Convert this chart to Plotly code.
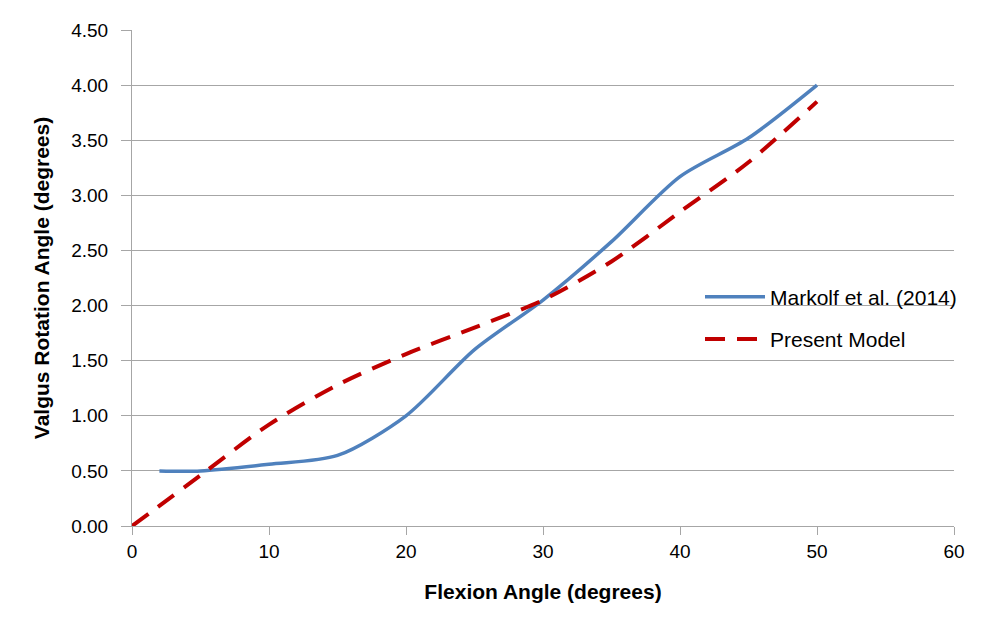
import plotly.graph_objects as go

# Data
markolf_x = [2, 5, 10, 15, 20, 25, 30, 35, 40, 45, 50]
markolf_y = [0.50, 0.50, 0.56, 0.64, 1.00, 1.60, 2.05, 2.58, 3.17, 3.52, 4.00]
model_x = [0, 5, 10, 15, 20, 25, 30, 35, 40, 45, 50]
model_y = [0.00, 0.46, 0.92, 1.28, 1.56, 1.80, 2.05, 2.40, 2.85, 3.30, 3.85]
y_ticks = [0, 0.5, 1.0, 1.5, 2.0, 2.5, 3.0, 3.5, 4.0, 4.5]
y_tick_labels = ["0.00", "0.50", "1.00", "1.50", "2.00", "2.50", "3.00", "3.50", "4.00", "4.50"]
x_ticks = [0, 10, 20, 30, 40, 50, 60]

FONT = "Liberation Sans Narrow, Liberation Sans, Arial, sans-serif"

fig = go.Figure()
fig.add_trace(go.Scatter(
    x=markolf_x, y=markolf_y, mode="lines", name="Markolf et al. (2014)",
    line=dict(color="#4F81BD", width=3.5, shape="spline", smoothing=0.8),
    legendgroup="a"))
fig.add_trace(go.Scatter(
    x=model_x, y=model_y, mode="lines", name="Present Model",
    line=dict(color="#C00000", width=4, dash="20px,12px", shape="spline", smoothing=0.8),
    legendgroup="b"))

fig.update_layout(
    width=976, height=623,
    margin=dict(l=124, r=30, t=18, b=105),
    paper_bgcolor="white", plot_bgcolor="white",
    font=dict(family=FONT, size=19, color="#000000"),
    showlegend=True,
    legend=dict(x=0.691, y=0.503, xanchor="left", yanchor="top",
                font=dict(family=FONT, size=21, color="#000000"),
                itemwidth=60, tracegroupgap=12, bgcolor="rgba(0,0,0,0)"),
    xaxis=dict(range=[0, 60], tickvals=x_ticks, showgrid=False,
               showline=True, linecolor="#A6A6A6", linewidth=1,
               ticks="outside", ticklen=8, tickcolor="#A6A6A6",
               tickfont=dict(size=19), zeroline=False,
               title=dict(text="<b>Flexion Angle (degrees)</b>", font=dict(size=21), standoff=23)),
    yaxis=dict(range=[0, 4.5], tickvals=y_ticks, ticktext=y_tick_labels,
               showgrid=True, gridcolor="#A6A6A6", gridwidth=1,
               showline=True, linecolor="#A6A6A6", linewidth=1,
               ticks="outside", ticklen=10, tickcolor="#A6A6A6",
               tickfont=dict(size=19), zeroline=False, ticklabelstandoff=9,
               title=dict(text="<b>Valgus Rotation Angle (degrees)</b>", font=dict(size=21), standoff=15)),
)

fig.write_html("out.html")
